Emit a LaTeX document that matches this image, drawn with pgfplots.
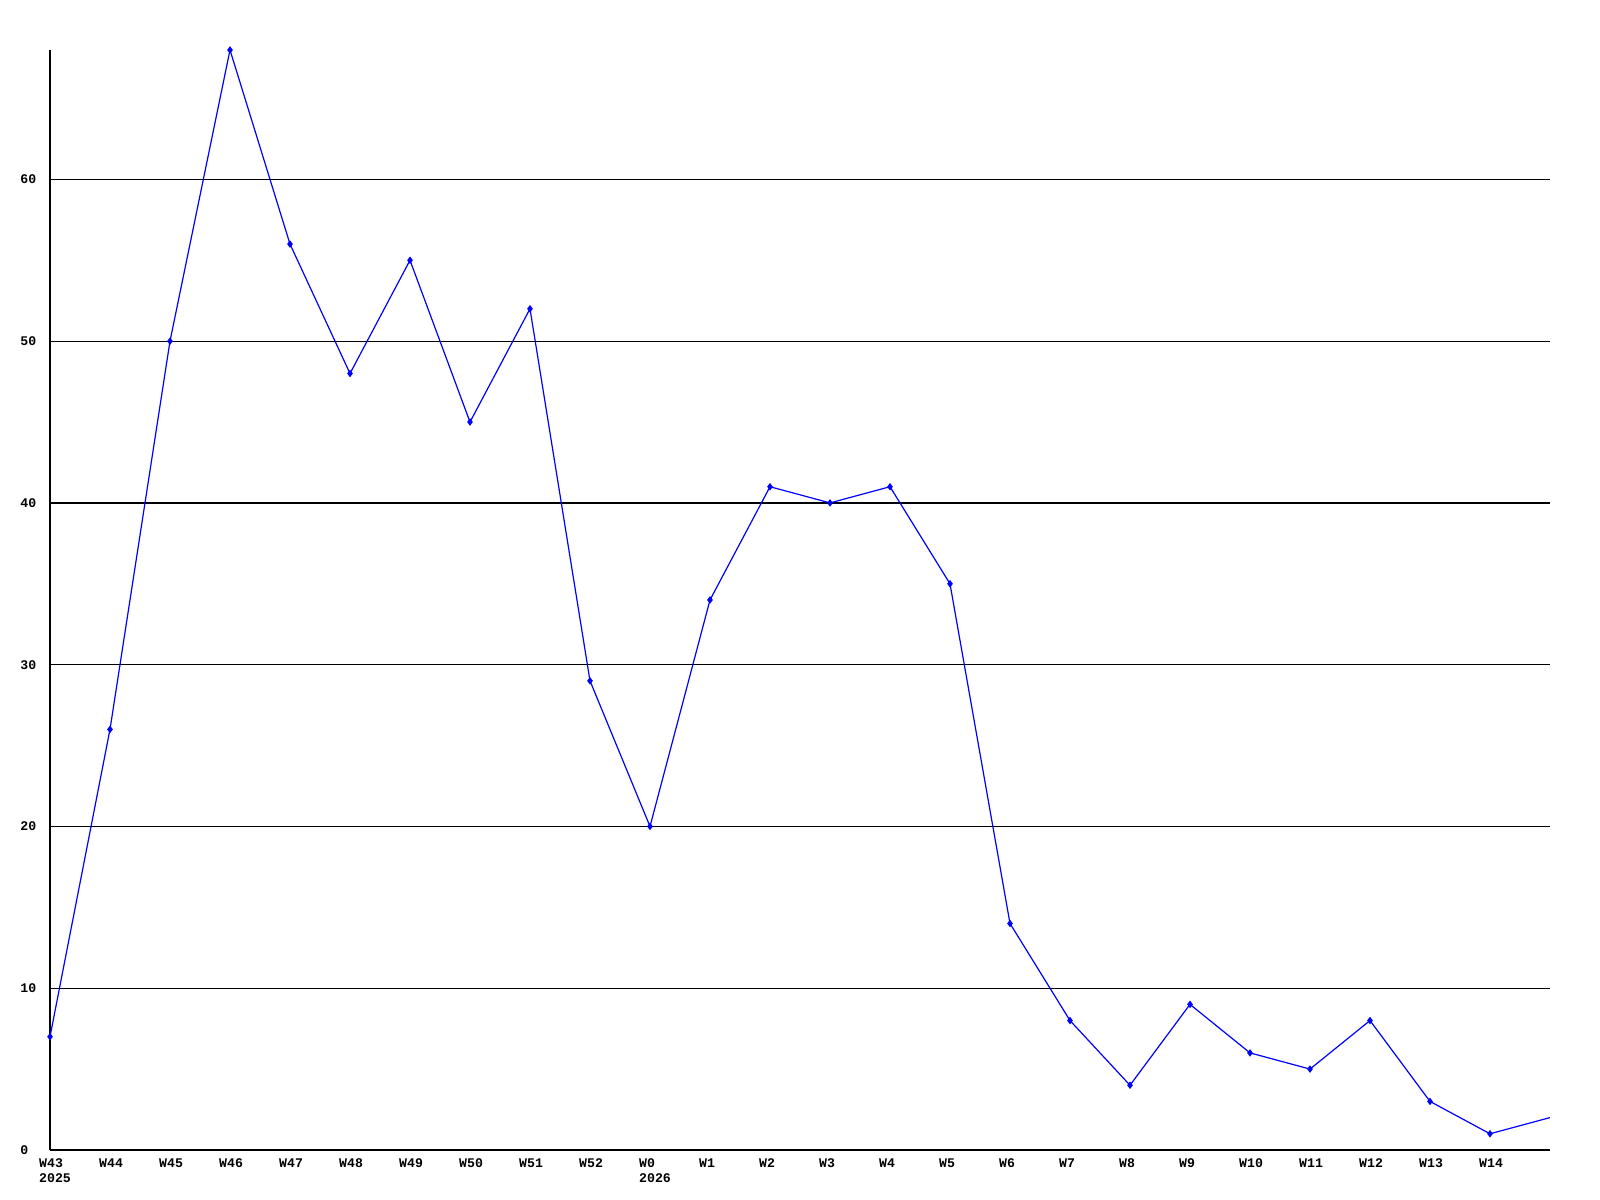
\documentclass[border=0pt]{standalone}
\usepackage{fontspec}
\setmonofont{Liberation Mono}
\usepackage{pgfplots}
\pgfplotsset{compat=1.18}
\begin{document}
\begin{tikzpicture}
\begin{axis}[
  name=ax,
  scale only axis,
  width=375pt, height=275pt,
  xmin=0, xmax=25, ymin=0, ymax=68,
  axis x line*=bottom, axis y line*=left,
  axis line style={black, line width=0.35pt, -},
  xtick={0,...,24},
  xticklabels={{W43\\2025},W44,W45,W46,W47,W48,W49,W50,W51,W52,{W0\\2026},W1,W2,W3,W4,W5,W6,W7,W8,W9,W10,W11,W12,W13,W14},
  ytick={0,10,...,60},
  major tick length=0pt,
  ymajorgrids,
  grid style={black, line width=0.3pt},
  xticklabel style={font=\ttfamily\bfseries\fontsize{3.3}{3.75}\selectfont, align=left, anchor=north west, inner sep=0pt, yshift=-1.9pt, xshift=-2.9pt},
  yticklabel style={font=\ttfamily\bfseries\fontsize{3.3}{3.75}\selectfont, anchor=west, inner sep=0pt, xshift=-7.6pt},
  /pgf/number format/assume math mode=true,
  clip=false,
]
\addplot[blue, line width=0.3pt, mark=diamond*, mark size=0.7pt, mark options={blue}] coordinates {
(0,7) (1,26) (2,50) (3,68) (4,56) (5,48) (6,55) (7,45) (8,52) (9,29)
(10,20) (11,34) (12,41) (13,40) (14,41) (15,35) (16,14) (17,8) (18,4) (19,9)
(20,6) (21,5) (22,8) (23,3) (24,1)
};
\addplot[blue, line width=0.3pt] coordinates {(24,1) (25,2)};
\end{axis}
\pgfresetboundingbox
\path[use as bounding box] ([shift={(-12.5pt,-12.5pt)}]ax.south west) rectangle ([shift={(12.5pt,12.5pt)}]ax.north east);
\end{tikzpicture}
\end{document}
